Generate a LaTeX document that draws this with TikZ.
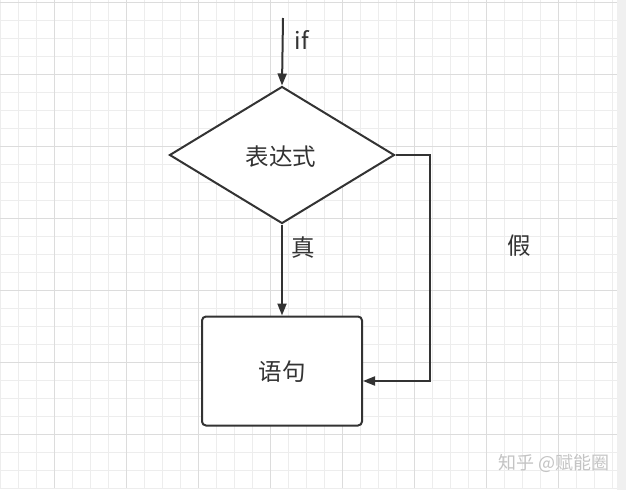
\documentclass[tikz,border=0pt]{standalone}
\usepackage{fontspec}
\setmainfont{Noto Sans CJK SC}
\usetikzlibrary{arrows.meta,shapes.geometric}
\definecolor{ink}{HTML}{333333}
\definecolor{minorg}{HTML}{EDEDED}
\definecolor{majorg}{HTML}{DCDCDC}
\definecolor{wm}{HTML}{C4C4C4}
\tikzset{
  flow/.style={draw=ink, line width=2pt, -{Triangle[length=12pt,width=9pt]}},
  lbl/.style={text=ink, font=\fontsize{23.5}{23.5}\selectfont, inner sep=0pt},
  dia/.style={diamond, draw=ink, line width=2pt, fill=white, minimum width=225pt, minimum height=137pt, aspect=1.64, inner sep=0pt},
  stmt/.style={rectangle, rounded corners=4pt, draw=ink, line width=2pt, fill=white, minimum width=160pt, minimum height=109pt},
}
\begin{document}
\begin{tikzpicture}[x=1pt,y=-1pt]
\useasboundingbox (0,0) rectangle (626,490);
\fill[white] (0,0) rectangle (626,490);
\fill[black!6] (617,0) rectangle (626,490);
% grid
\foreach \i in {0,...,34} {\draw[minorg, line width=0.8pt] (18*\i,0) -- (18*\i,488);}
\foreach \j in {0,...,27} {\draw[minorg, line width=0.8pt] (0,2+18*\j) -- (617,2+18*\j);}
\foreach \i in {0,...,8} {\draw[majorg, line width=0.9pt] (54+72*\i,0) -- (54+72*\i,488);}
\foreach \j in {0,...,6} {\draw[majorg, line width=0.9pt] (0,2+72*\j) -- (617,2+72*\j);}
% nodes
\node[dia] (expr) at (282,155) {};
\node[lbl] (exprt) at (281,157) {表达式};
\node[stmt] (stmt) at (282,371) {};
\node[lbl] (stmtt) at (282,372) {语句};
\coordinate (start) at (283,18);
\coordinate (c1) at (430,155);
\coordinate (c2) at (430,381);
\coordinate (sin) at (stmt.east |- c2);
\node[lbl] (iflbl) at (302,40) {if};
\node[lbl] (truelbl) at (303,248) {真};
\node[lbl] (falselbl) at (519,246) {假};
\node[text=wm, font=\fontsize{18}{18}\selectfont, inner sep=0pt] (wmark) at (554,463) {知乎 @赋能圈};
% connectors
\draw[flow] (start) -- (expr.north);
\draw[flow] (expr.south) -- (stmt.north);
\draw[flow] (expr.east) -- (c1) -- (c2) -- (sin);
\end{tikzpicture}
\end{document}
